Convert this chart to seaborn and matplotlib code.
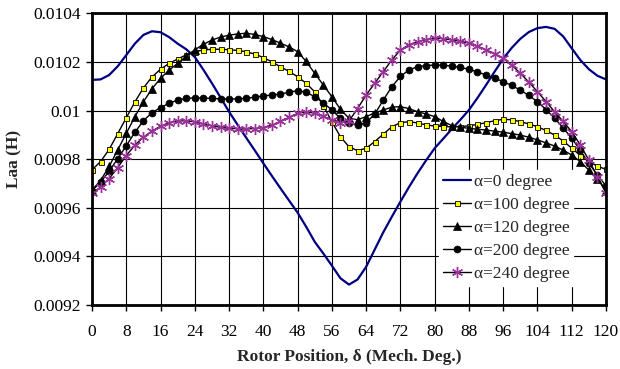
import numpy as np
import pandas as pd
import matplotlib
matplotlib.use("Agg")
import matplotlib.pyplot as plt
import seaborn as sns

# Rotor position (mechanical degrees), sampled every 2 degrees
rotor_pos = list(range(0, 121, 2))

# Self inductance Laa (H) for each current angle alpha
laa_alpha0 = [
    0.010126, 0.010128, 0.010146, 0.010182, 0.010228, 0.010275, 0.010311, 0.010326,
    0.010322, 0.010302, 0.010275, 0.010252, 0.010220, 0.010168, 0.010112, 0.010054,
    0.009995, 0.009941, 0.009888, 0.009836, 0.009783, 0.009731, 0.009680, 0.009630,
    0.009580, 0.009522, 0.009460, 0.009412, 0.009362, 0.009310, 0.009284, 0.009305,
    0.009357, 0.009428, 0.009499, 0.009563, 0.009625, 0.009685, 0.009742, 0.009795,
    0.009845, 0.009884, 0.009924, 0.009962, 0.010002, 0.010052, 0.010105, 0.010160,
    0.010213, 0.010258, 0.010295, 0.010323, 0.010339, 0.010344, 0.010336, 0.010305,
    0.010256, 0.010208, 0.010170, 0.010143, 0.010128,
]
laa_alpha100 = [
    0.009756, 0.009790, 0.009840, 0.009905, 0.009970, 0.010035, 0.010093, 0.010138,
    0.010170, 0.010194, 0.010212, 0.010229, 0.010242, 0.010249, 0.010252, 0.010252,
    0.010250, 0.010247, 0.010242, 0.010232, 0.010218, 0.010200, 0.010180, 0.010161,
    0.010139, 0.010112, 0.010077, 0.010020, 0.009954, 0.009892, 0.009851, 0.009835,
    0.009845, 0.009872, 0.009903, 0.009933, 0.009950, 0.009954, 0.009949, 0.009941,
    0.009936, 0.009934, 0.009933, 0.009934, 0.009937, 0.009943, 0.009950, 0.009958,
    0.009964, 0.009962, 0.009954, 0.009945, 0.009933, 0.009918, 0.009899, 0.009875,
    0.009845, 0.009815, 0.009790, 0.009771, 0.009758,
]
laa_alpha120 = [
    0.009673, 0.009712, 0.009770, 0.009838, 0.009906, 0.009974, 0.010036, 0.010089,
    0.010133, 0.010166, 0.010194, 0.010223, 0.010250, 0.010272, 0.010290, 0.010302,
    0.010310, 0.010315, 0.010318, 0.010313, 0.010304, 0.010292, 0.010277, 0.010262,
    0.010242, 0.010202, 0.010153, 0.010105, 0.010057, 0.010005, 0.009968, 0.009962,
    0.009975, 0.009990, 0.010002, 0.010014, 0.010016, 0.010008, 0.009995, 0.009986,
    0.009975, 0.009955, 0.009938, 0.009931, 0.009927, 0.009923, 0.009920, 0.009915,
    0.009911, 0.009905, 0.009899, 0.009890, 0.009879, 0.009867, 0.009854, 0.009837,
    0.009817, 0.009790, 0.009755, 0.009717, 0.009675,
]
laa_alpha200 = [
    0.009670, 0.009705, 0.009750, 0.009802, 0.009855, 0.009910, 0.009958, 0.009991,
    0.010012, 0.010030, 0.010043, 0.010050, 0.010052, 0.010051, 0.010050, 0.010048,
    0.010047, 0.010048, 0.010050, 0.010055, 0.010060, 0.010064, 0.010068, 0.010075,
    0.010082, 0.010075, 0.010057, 0.010032, 0.010002, 0.009968, 0.009947, 0.009940,
    0.009950, 0.009985, 0.010043, 0.010098, 0.010140, 0.010167, 0.010180, 0.010185,
    0.010187, 0.010186, 0.010183, 0.010177, 0.010170, 0.010159, 0.010146, 0.010133,
    0.010119, 0.010103, 0.010084, 0.010062, 0.010036, 0.010004, 0.009968, 0.009929,
    0.009886, 0.009836, 0.009783, 0.009735, 0.009690,
]
laa_alpha240 = [
    0.009660, 0.009685, 0.009720, 0.009765, 0.009815, 0.009857, 0.009890, 0.009916,
    0.009935, 0.009950, 0.009957, 0.009958, 0.009953, 0.009945, 0.009937, 0.009931,
    0.009927, 0.009925, 0.009924, 0.009926, 0.009930, 0.009940, 0.009955, 0.009972,
    0.009988, 0.009995, 0.009989, 0.009976, 0.009961, 0.009949, 0.009957, 0.010008,
    0.010064, 0.010112, 0.010160, 0.010208, 0.010249, 0.010270, 0.010283, 0.010292,
    0.010297, 0.010296, 0.010290, 0.010285, 0.010277, 0.010265, 0.010249, 0.010234,
    0.010215, 0.010187, 0.010153, 0.010117, 0.010077, 0.010037, 0.009995, 0.009955,
    0.009913, 0.009858, 0.009796, 0.009728, 0.009660,
]

series_labels = ["α=0 degree", "α=100 degree", "α=120 degree",
                 "α=200 degree", "α=240 degree"]

x_ticks = list(range(0, 121, 8))
y_ticks = [0.0092, 0.0094, 0.0096, 0.0098, 0.01, 0.0102, 0.0104]
y_tick_labels = ["0.0092", "0.0094", "0.0096", "0.0098", "0.01", "0.0102", "0.0104"]

df = pd.DataFrame({
    "pos": rotor_pos,
    "a0": laa_alpha0,
    "a100": laa_alpha100,
    "a120": laa_alpha120,
    "a200": laa_alpha200,
    "a240": laa_alpha240,
})

sns.set_style("white")
plt.rcParams["font.family"] = ["Liberation Serif", "DejaVu Serif"]

fig = plt.figure(figsize=(6.2, 3.69), dpi=100)
ax = fig.add_axes([0.1484, 0.1734, 0.8290, 0.7906])

styles = [
    ("a0", dict(color="#000080", linewidth=1.6, marker=None)),
    ("a100", dict(color="black", linewidth=1.0, marker="s", markersize=3.6,
                  markerfacecolor="#ffff00", markeredgecolor="black",
                  markeredgewidth=0.6)),
    ("a120", dict(color="black", linewidth=1.0, marker="^", markersize=6.0,
                  markerfacecolor="black", markeredgecolor="black",
                  markeredgewidth=0.5)),
    ("a200", dict(color="black", linewidth=1.0, marker="o", markersize=5.0,
                  markerfacecolor="black", markeredgecolor="black",
                  markeredgewidth=0.5)),
    ("a240", dict(color="black", linewidth=1.0, marker=(6, 2, 0), markersize=8.0,
                  markerfacecolor="#993399", markeredgecolor="#993399",
                  markeredgewidth=1.0)),
]

for (col, kw), label in zip(styles, series_labels):
    sns.lineplot(data=df, x="pos", y=col, ax=ax, label=label, **kw)

ax.set_xlim(0, 120)
ax.set_ylim(0.0092, 0.0104)
ax.set_xticks(x_ticks)
ax.set_xticklabels([str(t) for t in x_ticks])
ax.set_yticks(y_ticks)
ax.set_yticklabels(y_tick_labels)

ax.grid(True, color="black", linewidth=0.8)
ax.set_axisbelow(True)
for spine in ax.spines.values():
    spine.set_visible(True)
    spine.set_color("black")
    spine.set_linewidth(2.0)

ax.tick_params(axis="both", which="both", direction="out", length=4,
               width=1.0, color="black", labelsize=12.5, labelcolor="black")
ax.tick_params(axis="x", pad=10)
ax.tick_params(axis="y", pad=4)
ax.tick_params(left=True, bottom=True)

ax.set_xlabel("Rotor Position, δ (Mech. Deg.)", fontsize=12.5,
              fontweight="bold", labelpad=6)
ax.set_ylabel("Laa (H)", fontsize=12.5, fontweight="bold", labelpad=8)

leg = ax.legend(loc="upper left", bbox_to_anchor=(0.676, 0.462),
                frameon=True, fancybox=False, framealpha=1.0,
                edgecolor="white", facecolor="white", fontsize=12.5,
                handlelength=1.6, handletextpad=0.2, labelspacing=0.40,
                borderpad=0.2, numpoints=1, borderaxespad=0.0)

fig.savefig("out.png", dpi=100)
